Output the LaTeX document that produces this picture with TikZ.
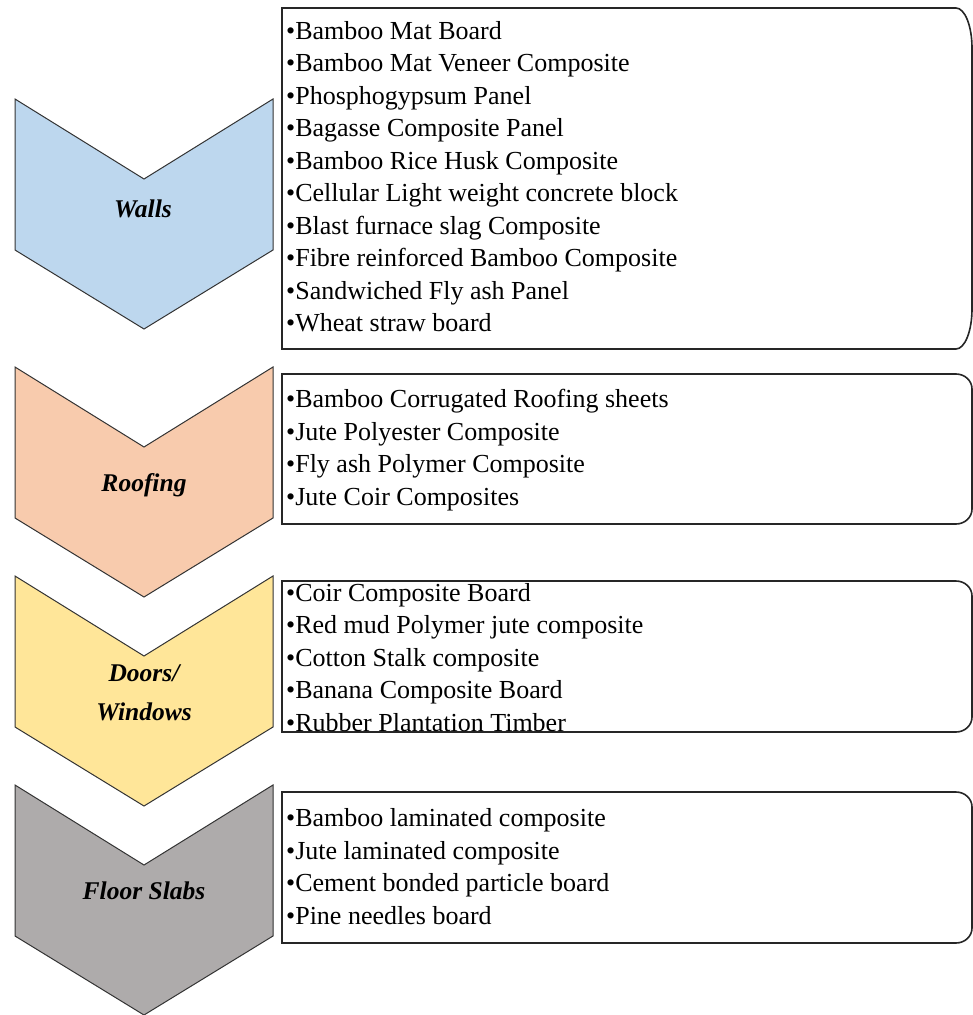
\documentclass[tikz,border=0pt]{standalone}
\usepackage{fontspec}
\setmainfont{Liberation Serif}
\usepackage{tikz}
\usetikzlibrary{calc}
\definecolor{wallblue}{HTML}{BDD7EE}
\definecolor{roofpeach}{HTML}{F8CBAD}
\definecolor{dooryellow}{HTML}{FFE699}
\definecolor{floorgrey}{HTML}{AEABAB}
\def\chevron[#1](#2){\draw[#1] (15,#2) -- (144,#2+80) -- (273,#2) -- (273,#2+151) -- (144,#2+230) -- (15,#2+151) -- cycle;}
\def\listbox(#1:#2:#3){\draw[line width=1.6pt, color=black!85] (282,#1) -- (956,#1) arc[start angle=-90, end angle=0, x radius=16, y radius=#3] -- (972,#2-#3) arc[start angle=0, end angle=90, x radius=16, y radius=#3] -- (282,#2) -- cycle;}
\tikzset{item/.style={anchor=base west, inner sep=0pt, font=\fontsize{26}{31}\selectfont},
	chevlabel/.style={anchor=base, inner sep=0pt, font=\fontsize{25.5}{30}\selectfont\bfseries\itshape}}

\begin{document}
\begin{tikzpicture}[x=1pt, y=-1pt]
			%%%%% START %%%%%
			\useasboundingbox (0,0) rectangle (973,1015);
			
			\chevron[fill=wallblue, draw=black!80, line width=1pt](99);
			\chevron[fill=roofpeach, draw=black!80, line width=1pt](367);
			\chevron[fill=dooryellow, draw=black!80, line width=1pt](576);
			\chevron[fill=floorgrey, draw=black!80, line width=1pt](785);
			
			\node[chevlabel] (walls) at (143, 217) {Walls};
			\node[chevlabel] (roofing) at (144, 491) {Roofing};
			\node[chevlabel] (doors) at (144, 681) {Doors/};
			\node[chevlabel] (windows) at (144, 720) {Windows};
			\node[chevlabel] (floor) at (144, 899) {Floor Slabs};
			
			\listbox(8:349:40);
			\listbox(374:524:15);
			\listbox(581:732:15);
			\listbox(792:943:15);
			
			\foreach \t [count=\i] in {Bamboo Mat Board, Bamboo Mat Veneer Composite, Phosphogypsum Panel, Bagasse Composite Panel, Bamboo Rice Husk Composite, Cellular Light weight concrete block, Blast furnace slag Composite, Fibre reinforced Bamboo Composite, Sandwiched Fly ash Panel, Wheat straw board}
				\node[item] (wall\i) at (286, 6.5+32.5*\i) {•\t};
			
			\foreach \t [count=\i] in {Bamboo Corrugated Roofing sheets, Jute Polyester Composite, Fly ash Polymer Composite, Jute Coir Composites}
				\node[item] (roof\i) at (286, 375+32.5*\i) {•\t};
			
			\foreach \t [count=\i] in {Coir Composite Board, Red mud Polymer jute composite, Cotton Stalk composite, Banana Composite Board, Rubber Plantation Timber}
				\node[item] (door\i) at (286, 568.5+32.5*\i) {•\t};
			
			\foreach \t [count=\i] in {Bamboo laminated composite, Jute laminated composite, Cement bonded particle board, Pine needles board}
				\node[item] (slab\i) at (286, 794+32.5*\i) {•\t};
			
			%%%%% END %%%%%
\end{tikzpicture}
\end{document}
